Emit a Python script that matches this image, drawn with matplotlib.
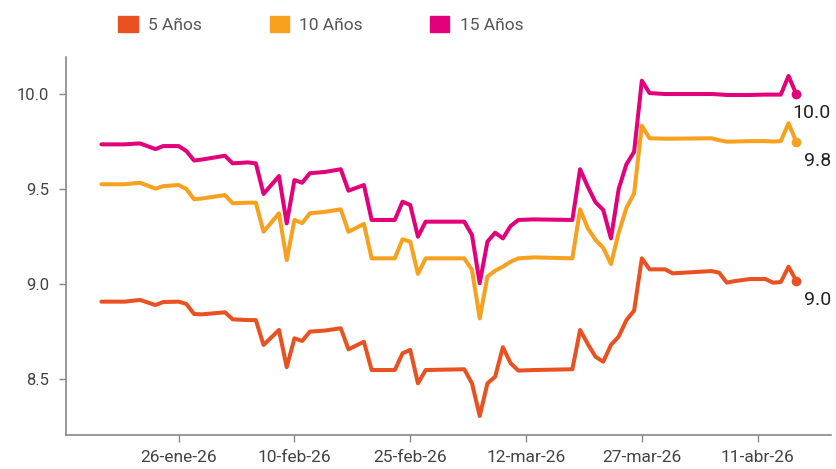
import matplotlib
matplotlib.use("Agg")
import matplotlib.pyplot as plt
import datetime as dt

plt.rcParams['font.family'] = ['Roboto', 'DejaVu Sans']

# fechas de los vertices (2026)
fechas = ["01-16", "01-19", "01-21", "01-23", "01-24", "01-26", "01-27", "01-28", "01-29",
          "02-01", "02-02", "02-04", "02-05", "02-06", "02-08", "02-09", "02-10", "02-11",
          "02-12", "02-14", "02-16", "02-17", "02-19", "02-20", "02-23", "02-24", "02-25",
          "02-26", "02-27", "03-04", "03-05", "03-06", "03-07", "03-08", "03-09", "03-10",
          "03-11", "03-13", "03-18", "03-19", "03-20", "03-21", "03-22", "03-23", "03-24",
          "03-25", "03-26", "03-27", "03-28", "03-30", "03-31", "04-05", "04-06", "04-07",
          "04-08", "04-10", "04-12", "04-13", "04-14", "04-15", "04-16"]

anios5 = [8.907, 8.907, 8.916, 8.889, 8.905, 8.907, 8.895, 8.842, 8.840,
          8.851, 8.814, 8.810, 8.810, 8.679, 8.758, 8.562, 8.714, 8.700,
          8.749, 8.755, 8.767, 8.656, 8.696, 8.547, 8.547, 8.635, 8.653,
          8.477, 8.547, 8.551, 8.477, 8.305, 8.477, 8.512, 8.667, 8.583,
          8.544, 8.547, 8.551, 8.758, 8.684, 8.617, 8.591, 8.679, 8.723,
          8.810, 8.860, 9.135, 9.077, 9.077, 9.056, 9.068, 9.060, 9.007,
          9.015, 9.026, 9.026, 9.007, 9.010, 9.091, 9.018]

anios10 = [9.525, 9.525, 9.533, 9.502, 9.515, 9.521, 9.500, 9.446, 9.450,
           9.468, 9.425, 9.428, 9.428, 9.275, 9.372, 9.126, 9.337, 9.320,
           9.372, 9.380, 9.393, 9.275, 9.316, 9.135, 9.135, 9.235, 9.223,
           9.053, 9.135, 9.135, 9.074, 8.819, 9.039, 9.070, 9.091, 9.117,
           9.135, 9.140, 9.135, 9.393, 9.293, 9.232, 9.190, 9.105, 9.270,
           9.400, 9.477, 9.833, 9.767, 9.765, 9.765, 9.767, 9.757, 9.749,
           9.750, 9.752, 9.752, 9.750, 9.752, 9.846, 9.749]

anios15 = [9.735, 9.735, 9.740, 9.710, 9.726, 9.726, 9.700, 9.650, 9.655,
           9.675, 9.635, 9.640, 9.635, 9.474, 9.568, 9.319, 9.547, 9.533,
           9.583, 9.590, 9.604, 9.491, 9.521, 9.337, 9.337, 9.433, 9.416,
           9.249, 9.328, 9.328, 9.258, 9.004, 9.223, 9.270, 9.240, 9.305,
           9.337, 9.340, 9.337, 9.604, 9.512, 9.430, 9.390, 9.240, 9.500,
           9.630, 9.696, 10.070, 10.005, 10.000, 10.000, 10.000, 9.998, 9.995,
           9.995, 9.995, 9.997, 9.997, 9.997, 10.095, 10.000]

series = ["5 Años", "10 Años", "15 Años"]
colores = ["#EA5121", "#F7A11F", "#E3007B"]
etiquetas_fin = ["9.0", "9.8", "10.0"]

ticks_fechas = ["01-26", "02-10", "02-25", "03-12", "03-27", "04-11"]
ticks_labels = ["26-ene-26", "10-feb-26", "25-feb-26", "12-mar-26", "27-mar-26", "11-abr-26"]

def a_fecha(s):
    m, d = s.split("-")
    return dt.datetime(2026, int(m), int(d))

x = [a_fecha(f) for f in fechas]

fig = plt.figure(figsize=(8.36, 4.69), dpi=100)
ax = fig.add_axes([0.079, 0.0725, 0.915, 0.806])

for nombre, vals, col, lab in zip(series, [anios5, anios10, anios15], colores, etiquetas_fin):
    ax.plot(x, vals, color=col, lw=2.9, solid_joinstyle='round', solid_capstyle='round')
    ax.plot(x[-1], vals[-1], 'o', color=col, ms=6)
    ax.annotate(lab, (x[-1], vals[-1]), xytext=(25, -14), textcoords='offset points',
                ha='right', va='center', fontsize=14, color='#222222',
                annotation_clip=False)

ax.set_xlim(dt.datetime(2026, 1, 11, 10), dt.datetime(2026, 4, 20, 12))
ax.set_ylim(8.205, 10.195)
ax.set_yticks([8.5, 9.0, 9.5, 10.0])
ax.set_yticklabels(["8.5", "9.0", "9.5", "10.0"])
ax.set_xticks([a_fecha(f) for f in ticks_fechas])
ax.set_xticklabels(ticks_labels)

for s in ["top", "right"]:
    ax.spines[s].set_visible(False)
for s in ["left", "bottom"]:
    ax.spines[s].set_color("#888888")
    ax.spines[s].set_linewidth(1.2)
ax.tick_params(axis='both', colors="#888888", labelcolor="#444444", length=5, width=1)
ax.tick_params(axis='y', labelsize=12, pad=7)
ax.tick_params(axis='x', labelsize=12.5, pad=6)

# leyenda
handles = [plt.Rectangle((0, 0), 1, 1, color=c) for c in colores]
fig.legend(handles, series, loc='upper left', bbox_to_anchor=(0.123, 1.0), ncol=3,
           frameon=False, fontsize=12.5, labelcolor="#555555", handlelength=1.1,
           handleheight=1.1, columnspacing=3.9, handletextpad=0.6)

fig.savefig("out.png", dpi=100)
